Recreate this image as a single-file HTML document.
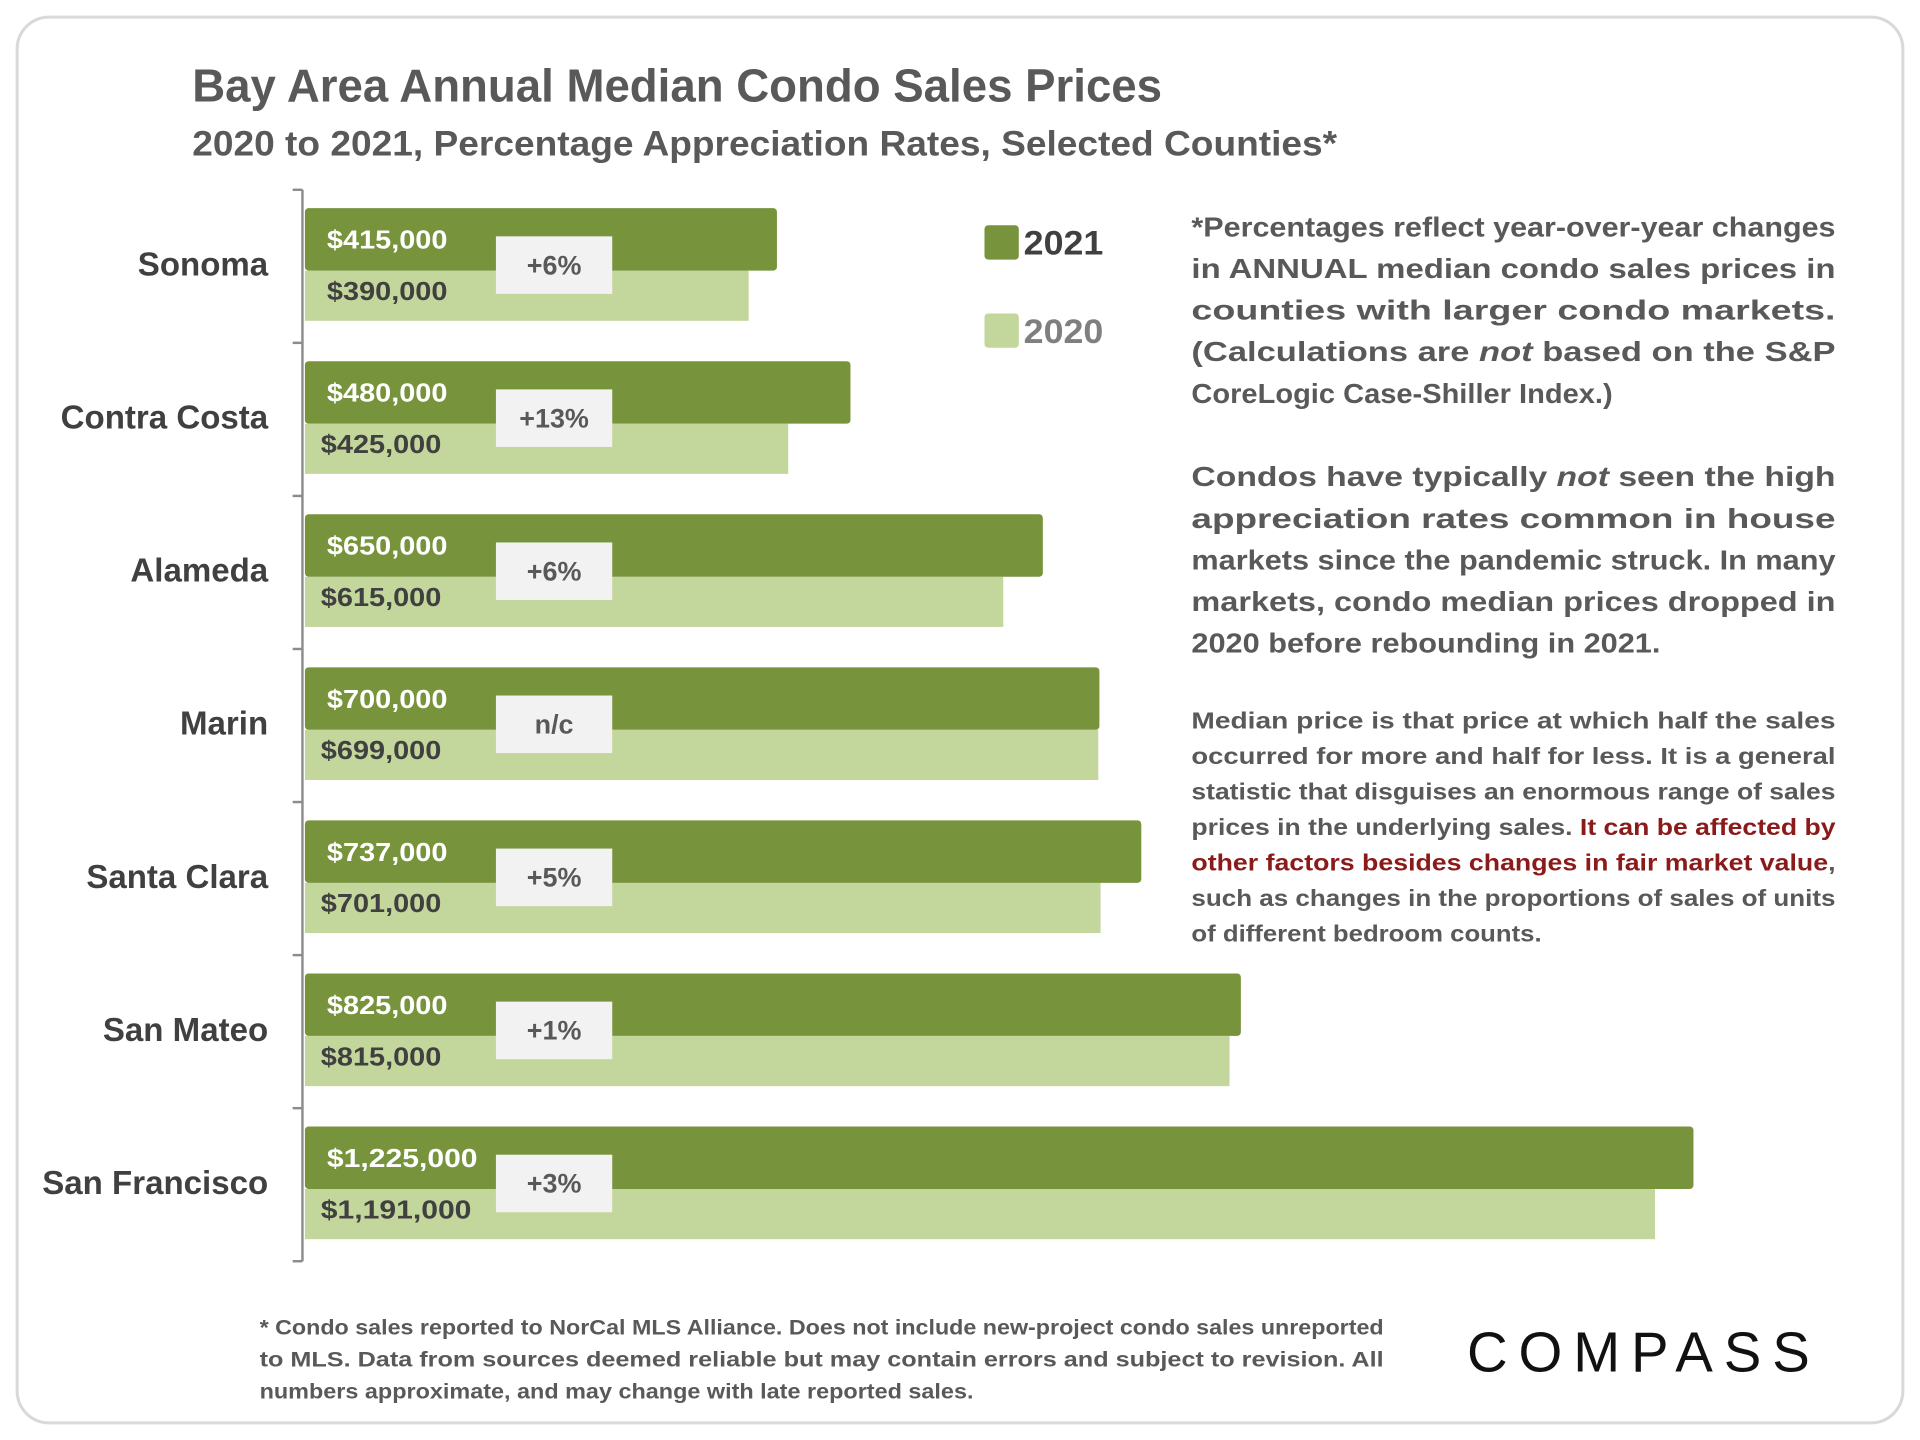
<!DOCTYPE html>
<html><head><meta charset="utf-8"><style>
html,body{margin:0;padding:0;background:#fff;}
svg{display:block;font-family:"Liberation Sans",sans-serif;font-weight:bold;}
</style></head><body>
<svg id="chart" width="1920" height="1440" viewBox="0 0 1568 1176" xmlns="http://www.w3.org/2000/svg">
<rect x="14" y="14" width="1540" height="1148" rx="26" fill="#fff" stroke="#d9d9d9" stroke-width="2.5"/>
<text x="157" y="83" font-size="38" fill="#595959" textLength="792" lengthAdjust="spacingAndGlyphs">Bay Area Annual Median Condo Sales Prices</text>
<text x="157" y="127" font-size="29" fill="#595959" textLength="935" lengthAdjust="spacingAndGlyphs">2020 to 2021, Percentage Appreciation Rates, Selected Counties*</text>
<g id="plot"></g>
<g>
<rect x="804" y="184" width="28" height="28" rx="3" fill="#77933c"/>
<text x="836" y="208" font-size="28" fill="#404040" textLength="65" lengthAdjust="spacingAndGlyphs">2021</text>
<rect x="804" y="256" width="28" height="28" rx="3" fill="#c3d69b"/>
<text x="836" y="280" font-size="28" fill="#7f7f7f" textLength="65" lengthAdjust="spacingAndGlyphs">2020</text>
</g>
<g fill="#595959" font-size="23">
<text x="973" y="193" textLength="526" lengthAdjust="spacingAndGlyphs">*Percentages reflect year-over-year changes</text>
<text x="973" y="227" textLength="526" lengthAdjust="spacingAndGlyphs">in ANNUAL median condo sales prices in</text>
<text x="973" y="261" textLength="526" lengthAdjust="spacingAndGlyphs">counties with larger condo markets.</text>
<text x="973" y="295" textLength="526" lengthAdjust="spacingAndGlyphs">(Calculations are <tspan font-style="italic">not</tspan> based on the S&amp;P</text>
<text x="973" y="329" textLength="344" lengthAdjust="spacingAndGlyphs">CoreLogic Case-Shiller Index.)</text>
<text x="973" y="397" textLength="526" lengthAdjust="spacingAndGlyphs">Condos have typically <tspan font-style="italic">not</tspan> seen the high</text>
<text x="973" y="431" textLength="526" lengthAdjust="spacingAndGlyphs">appreciation rates common in house</text>
<text x="973" y="465" textLength="526" lengthAdjust="spacingAndGlyphs">markets since the pandemic struck. In many</text>
<text x="973" y="499" textLength="526" lengthAdjust="spacingAndGlyphs">markets, condo median prices dropped in</text>
<text x="973" y="533" textLength="383" lengthAdjust="spacingAndGlyphs">2020 before rebounding in 2021.</text>
</g>
<g fill="#595959" font-size="19">
<text x="973" y="595" textLength="526" lengthAdjust="spacingAndGlyphs">Median price is that price at which half the sales</text>
<text x="973" y="624" textLength="526" lengthAdjust="spacingAndGlyphs">occurred for more and half for less. It is a general</text>
<text x="973" y="653" textLength="526" lengthAdjust="spacingAndGlyphs">statistic that disguises an enormous range of sales</text>
<text x="973" y="682" textLength="526" lengthAdjust="spacingAndGlyphs">prices in the underlying sales. <tspan fill="#8b1a1a">It can be affected by</tspan></text>
<text x="973" y="711" textLength="526" lengthAdjust="spacingAndGlyphs"><tspan fill="#8b1a1a">other factors besides changes in fair market value</tspan>,</text>
<text x="973" y="740" textLength="526" lengthAdjust="spacingAndGlyphs">such as changes in the proportions of sales of units</text>
<text x="973" y="769" textLength="286" lengthAdjust="spacingAndGlyphs">of different bedroom counts.</text>
</g>
<g fill="#595959" font-size="17">
<text x="212" y="1090" textLength="918" lengthAdjust="spacingAndGlyphs">* Condo sales reported to NorCal MLS Alliance. Does not include new-project condo sales unreported</text>
<text x="212" y="1116" textLength="918" lengthAdjust="spacingAndGlyphs">to MLS. Data from sources deemed reliable but may contain errors and subject to revision.   All</text>
<text x="212" y="1142" textLength="583" lengthAdjust="spacingAndGlyphs">numbers approximate, and may change with late reported sales.</text>
</g>
<text x="1198" y="1120" font-size="46" font-weight="normal" fill="#111" letter-spacing="6" textLength="286" lengthAdjust="spacing">COMPASS</text>
</svg>
<script>
const categories = ["Sonoma","Contra Costa","Alameda","Marin","Santa Clara","San Mateo","San Francisco"];
const values2021 = [415000,480000,650000,700000,737000,825000,1225000];
const values2020 = [390000,425000,615000,699000,701000,815000,1191000];
const pctLabels = ["+6%","+13%","+6%","n/c","+5%","+1%","+3%"];

const NS = "http://www.w3.org/2000/svg";
const plot = document.getElementById("plot");
const x0 = 249, pxPerDollar = 1132 / 1225000;
const top0 = 155, band = 125;
function xScale(v){ return x0 + v * pxPerDollar; }
function yBand(i){ return top0 + i * band; }
function fmt(v){ return "$" + v.toLocaleString("en-US"); }
function mk(tag, attrs, text){
  const el = document.createElementNS(NS, tag);
  for (const k in attrs) el.setAttribute(k, attrs[k]);
  if (text !== undefined) el.textContent = text;
  plot.appendChild(el);
  return el;
}
let el;
el = mk("line", {x1:247, x2:247, y1:top0, y2:yBand(categories.length), stroke:"#8c8c8c", "stroke-width":2});


for (let i = 0; i <= categories.length; i++) {
  el = mk("line", {x1:239, x2:247, y1:yBand(i), y2:yBand(i), stroke:"#8c8c8c", "stroke-width":2});
  
  
}
categories.forEach((c, i) => {
  const y = yBand(i);
  el = mk("rect", {x:x0, y:y+66, width:xScale(values2020[i])-x0+2, height:41, fill:"#c3d69b"});
  
  
  el = mk("rect", {x:x0, y:y+15, width:xScale(values2021[i])-x0+2, height:51, rx:3, fill:"#77933c"});
  
  
  el = mk("rect", {x:405, y:y+38, width:95, height:47, fill:"#f2f2f2"});
  
  
  el = mk("text", {x:452.5, y:y+69, "font-size":22, fill:"#595959", "text-anchor":"middle"}, pctLabels[i]);
  
  
  const s21 = fmt(values2021[i]), s20 = fmt(values2020[i]);
  el = mk("text", {x:267, y:y+48, "font-size":21, fill:"#ffffff", textLength: s21.length*12.3, lengthAdjust:"spacingAndGlyphs"}, s21);
  
  
  el = mk("text", {x: i === 0 ? 267 : 262, y:y+90, "font-size":21, fill:"#404040", textLength: s20.length*12.3, lengthAdjust:"spacingAndGlyphs"}, s20);
  
  
  el = mk("text", {x:219, y:y+70, "font-size":27, fill:"#404040", "text-anchor":"end"}, c);
  
  
});
</script>
</body></html>
